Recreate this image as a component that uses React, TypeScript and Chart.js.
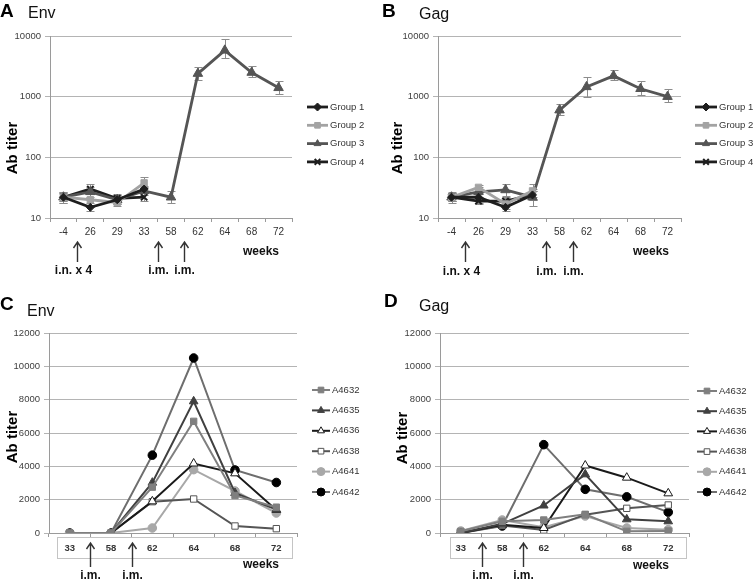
import React, { useEffect, useRef } from 'react';
import { Chart, registerables } from 'chart.js';
import { drawPoint } from 'chart.js/helpers';

Chart.register(...registerables);

const FONT = '"Liberation Sans", Arial, sans-serif';

// ---------- categories / labels ----------
const weeksAB = ['-4', '26', '29', '33', '58', '62', '64', '68', '72'];
const weeksCD = ['33', '58', '62', '64', '68', '72'];
const groupLabels = ['Group 1', 'Group 2', 'Group 3', 'Group 4'];
const animalLabels = ['A4632', 'A4635', 'A4636', 'A4638', 'A4641', 'A4642'];
const logTicks = [10, 100, 1000, 10000];

// ---------- Panel A: Env (group means, log scale) ----------
const envG1 = [22, 15, 20, 30];
const envG2 = [22, 20, 18, 38];
const envG3 = [22, 27, 20, 28, 22, 2400, 5800, 2500, 1400];
const envG4 = [22, 30, 21, 22];
const envG1Hi = [26, 18, 24, 34];
const envG1Lo = [19, 13, 17, 26];
const envG2Hi = [27, 25, 21, 47];
const envG2Lo = [18, 16, 16, 31];
const envG3Hi = [27, 33, 24, 33, 28, 3100, 8800, 3250, 1840];
const envG3Lo = [18, 22, 17, 24, 18, 1900, 4300, 2100, 1100];
const envG4Hi = [26, 36, 25, 26];
const envG4Lo = [19, 25, 18, 19];

// ---------- Panel B: Gag (group means, log scale) ----------
const gagG1 = [22, 22, 15, 24];
const gagG2 = [22, 32, 17, 28];
const gagG3 = [22, 27, 29, 22, 600, 1450, 2200, 1350, 1000];
const gagG4 = [22, 19, 19, 24];
const gagG1Hi = [26, 26, 18, 28];
const gagG1Lo = [19, 18, 13, 20];
const gagG2Hi = [26, 35, 21, 36];
const gagG2Lo = [19, 28, 14, 22];
const gagG3Hi = [27, 33, 37, 30, 750, 2100, 2800, 1780, 1340];
const gagG3Lo = [18, 22, 23, 16, 500, 1000, 1900, 1070, 830];
const gagG4Hi = [26, 22, 22, 28];
const gagG4Lo = [19, 17, 16, 20];

// ---------- Panel C: Env (individual animals) ----------
const c4632 = [0, 0, 2750, 6700, 2250, 1550];
const c4635 = [0, 0, 3020, 7900, 2400, 1400];
const c4636 = [0, 0, 1900, 4170, 3580, 1380];
const c4638 = [0, 0, 1880, 2040, 420, 260];
const c4641 = [0, 0, 300, 3800, 2520, 1200];
const c4642 = [0, 0, 4670, 10500, 3780, 3030];

// ---------- Panel D: Gag (individual animals) ----------
const d4632 = [100, 700, 780, 1120, 100, 120];
const d4635 = [0, 550, 1650, 3520, 820, 700];
const d4636 = [0, 500, 300, 4050, 3320, 2380];
const d4638 = [0, 450, 180, 1100, 1480, 1680];
const d4641 = [120, 780, 340, 1020, 300, 200];
const d4642 = [0, 420, 5300, 2620, 2170, 1250];

// ---------- styles ----------
const groupStyles = [
  { color: '#1e1e1e', point: 'rectRot', r: 4, fill: '#1e1e1e', border: '#1e1e1e' },
  { color: '#a3a3a3', point: 'rect', r: 4.5, fill: '#a3a3a3', border: '#a3a3a3' },
  { color: '#555555', point: 'triangle', r: 5.5, fill: '#555555', border: '#555555' },
  { color: '#1e1e1e', point: 'crossRot', r: 4.5, fill: '#1e1e1e', border: '#1e1e1e' },
];
const animalStyles = [
  { color: '#7f7f7f', point: 'rect', r: 4.5, fill: '#7f7f7f', border: '#7f7f7f' },
  { color: '#404040', point: 'triangle', r: 5, fill: '#404040', border: '#404040' },
  { color: '#1a1a1a', point: 'triangle', r: 5, fill: '#ffffff', border: '#1a1a1a' },
  { color: '#555555', point: 'rect', r: 4.5, fill: '#ffffff', border: '#555555' },
  { color: '#a8a8a8', point: 'circle', r: 4.3, fill: '#a8a8a8', border: '#a8a8a8' },
  { color: '#6e6e6e', point: 'circle', r: 4.3, fill: '#000000', border: '#000000' },
];

function makeDs(label: string, data: number[], st: any, lw: number, errHi?: number[], errLo?: number[]) {
  return {
    label,
    data,
    borderColor: st.color,
    backgroundColor: st.fill,
    borderWidth: lw,
    pointStyle: st.point,
    pointRadius: st.r,
    pointBackgroundColor: st.fill,
    pointBorderColor: st.border,
    pointBorderWidth: st.point === 'crossRot' ? 2 : 1,
    tension: 0,
    errHi,
    errLo,
  };
}

const decorPlugin = {
  id: 'decor',
  beforeDatasetsDraw(chart: any) {
    const ctx = chart.ctx;
    const ys = chart.scales.y;
    chart.data.datasets.forEach((ds: any, i: number) => {
      if (!ds.errHi) return;
      const meta = chart.getDatasetMeta(i);
      ctx.save();
      ctx.strokeStyle = '#8c8c8c';
      ctx.lineWidth = 1;
      ds.errHi.forEach((hi: number, j: number) => {
        const lo = ds.errLo[j];
        const pt = meta.data[j];
        if (hi == null || ds.data[j] == null || !pt) return;
        const x = Math.round(pt.x) + 0.5;
        const yh = Math.round(ys.getPixelForValue(hi)) + 0.5;
        const yl = Math.round(ys.getPixelForValue(lo)) + 0.5;
        ctx.beginPath();
        ctx.moveTo(x, yh); ctx.lineTo(x, yl);
        ctx.moveTo(x - 4, yh); ctx.lineTo(x + 4, yh);
        ctx.moveTo(x - 4, yl); ctx.lineTo(x + 4, yl);
        ctx.stroke();
      });
      ctx.restore();
    });
  },
  afterDraw(chart: any, _args: any, o: any) {
    if (!o || !o.letter) return;
    const ctx = chart.ctx;
    const ca = chart.chartArea;
    const xs = chart.scales.x;
    ctx.save();
    ctx.textBaseline = 'alphabetic';
    ctx.textAlign = 'left';
    ctx.fillStyle = '#000';
    ctx.font = `bold 19px ${FONT}`;
    ctx.fillText(o.letter.text, o.letter.x, o.letter.y);
    ctx.font = `16px ${FONT}`;
    ctx.fillStyle = '#111';
    ctx.fillText(o.title.text, o.title.x, o.title.y);

    // y title
    ctx.save();
    ctx.translate(o.ytitle.x, o.ytitle.y);
    ctx.rotate(-Math.PI / 2);
    ctx.textAlign = 'center';
    ctx.textBaseline = 'middle';
    ctx.font = `bold 15px ${FONT}`;
    ctx.fillStyle = '#000';
    ctx.fillText('Ab titer', 0, 0);
    ctx.restore();

    // label box
    if (o.box) {
      ctx.strokeStyle = '#c4c4c4';
      ctx.lineWidth = 1;
      ctx.strokeRect(
        Math.round(ca.left + o.box.l) + 0.5,
        Math.round(ca.bottom + o.box.t) + 0.5,
        Math.round(ca.right - ca.left - o.box.l - o.box.r),
        o.box.h
      );
    }

    // arrows
    ctx.strokeStyle = '#333';
    ctx.fillStyle = '#111';
    ctx.lineWidth = 1.4;
    ctx.font = `bold 12px ${FONT}`;
    ctx.textAlign = 'center';
    o.arrows.list.forEach((a: any) => {
      const bx = Math.round((xs.getPixelForTick(a.b - 1) + xs.getPixelForTick(a.b)) / 2) + 0.5;
      ctx.beginPath();
      ctx.moveTo(bx, o.arrows.y2);
      ctx.lineTo(bx, o.arrows.y1);
      ctx.moveTo(bx - 4, o.arrows.y1 + 6);
      ctx.lineTo(bx, o.arrows.y1);
      ctx.lineTo(bx + 4, o.arrows.y1 + 6);
      ctx.stroke();
      ctx.fillText(a.t, bx + (a.dx || 0), o.arrows.labelY);
    });

    // weeks
    ctx.fillText('weeks', ca.right + o.weeks.dx, o.weeks.y);

    // legend
    const L = o.legend;
    ctx.font = `9.5px ${FONT}`;
    ctx.textAlign = 'left';
    ctx.textBaseline = 'middle';
    chart.data.datasets.forEach((ds: any, i: number) => {
      const y = L.y0 + i * L.dy;
      ctx.strokeStyle = ds.borderColor;
      ctx.lineWidth = ds.borderWidth;
      ctx.beginPath();
      ctx.moveTo(L.x, y);
      ctx.lineTo(L.x + L.len, y);
      ctx.stroke();
      ctx.fillStyle = ds.pointBackgroundColor;
      ctx.strokeStyle = ds.pointBorderColor;
      ctx.lineWidth = ds.pointBorderWidth;
      drawPoint(ctx, { pointStyle: ds.pointStyle, radius: Math.min(ds.pointRadius, 4), borderWidth: ds.pointBorderWidth, rotation: 0 } as any, L.x + L.len / 2, y);
      ctx.fillStyle = '#333';
      ctx.fillText(ds.label, L.x + L.len + 2, y);
    });
    ctx.restore();
  },
};
Chart.register(decorPlugin as any);

function buildConfig(spec: any): any {
  const { area, W, H, xh } = spec;
  const yScale = spec.log
    ? {
        type: 'logarithmic',
        min: 10,
        max: 10000,
        afterBuildTicks: (s: any) => { s.ticks = logTicks.map((v) => ({ value: v })); },
        ticks: { callback: (v: any) => String(v), padding: 4, color: '#404040', font: { size: 9.5 } },
        grid: { color: '#b4b4b4', tickLength: 5 },
        border: { color: '#9a9a9a' },
        afterFit: (s: any) => { s.width = area.l; },
      }
    : {
        type: 'linear',
        min: 0,
        max: 12000,
        ticks: { stepSize: 2000, callback: (v: any) => String(v), padding: 4, color: '#404040', font: { size: 9.5 } },
        grid: { color: '#b4b4b4', tickLength: 5 },
        border: { color: '#9a9a9a' },
        afterFit: (s: any) => { s.width = area.l; },
      };
  return {
    type: 'line',
    data: { labels: spec.labels, datasets: spec.datasets },
    options: {
      responsive: false,
      animation: false,
      devicePixelRatio: 1,
      layout: { padding: { left: 0, top: area.t, right: W - area.r, bottom: H - area.b - xh } },
      plugins: { legend: { display: false }, tooltip: { enabled: false }, decor: spec.decor },
      scales: {
        x: {
          type: 'category',
          offset: true,
          grid: { offset: true, drawOnChartArea: false, drawTicks: true, tickLength: 4, color: '#9a9a9a' },
          border: { color: '#9a9a9a' },
          ticks: {
            autoSkip: false,
            maxRotation: 0,
            padding: spec.xPad,
            color: '#333',
            font: { size: spec.xBold ? 9.5 : 10, weight: spec.xBold ? 'bold' : 'normal' },
          },
          afterFit: (s: any) => { s.height = xh; },
        },
        y: yScale,
      },
    },
  };
}

const W = 377;
const H = 290;

const specA = {
  W, H, xh: 22, log: true, xPad: 4, xBold: false,
  area: { l: 50, r: 292, t: 36, b: 218 },
  labels: weeksAB,
  datasets: [
    makeDs(groupLabels[0], envG1, groupStyles[0], 2.8, envG1Hi, envG1Lo),
    makeDs(groupLabels[1], envG2, groupStyles[1], 2.8, envG2Hi, envG2Lo),
    makeDs(groupLabels[2], envG3, groupStyles[2], 2.8, envG3Hi, envG3Lo),
    makeDs(groupLabels[3], envG4, groupStyles[3], 2.8, envG4Hi, envG4Lo),
  ],
  decor: {
    letter: { text: 'A', x: 0, y: 17 },
    title: { text: 'Env', x: 28, y: 18 },
    ytitle: { x: 13, y: 148 },
    legend: { x: 307, len: 21, y0: 107, dy: 18.3 },
    arrows: { y1: 242, y2: 262, labelY: 274, list: [{ b: 1, t: 'i.n. x 4', dx: -4 }, { b: 4, t: 'i.m.' }, { b: 5, t: 'i.m.' }] },
    weeks: { dx: -31, y: 255 },
  },
};

const specB = {
  W, H, xh: 22, log: true, xPad: 4, xBold: false,
  area: { l: 61, r: 304, t: 36, b: 218 },
  labels: weeksAB,
  datasets: [
    makeDs(groupLabels[0], gagG1, groupStyles[0], 2.8, gagG1Hi, gagG1Lo),
    makeDs(groupLabels[1], gagG2, groupStyles[1], 2.8, gagG2Hi, gagG2Lo),
    makeDs(groupLabels[2], gagG3, groupStyles[2], 2.8, gagG3Hi, gagG3Lo),
    makeDs(groupLabels[3], gagG4, groupStyles[3], 2.8, gagG4Hi, gagG4Lo),
  ],
  decor: {
    letter: { text: 'B', x: 5, y: 17 },
    title: { text: 'Gag', x: 42, y: 19 },
    ytitle: { x: 21, y: 148 },
    legend: { x: 318, len: 22, y0: 107, dy: 18.3 },
    arrows: { y1: 242, y2: 262, labelY: 275, list: [{ b: 1, t: 'i.n. x 4', dx: -4 }, { b: 4, t: 'i.m.' }, { b: 5, t: 'i.m.' }] },
    weeks: { dx: -30, y: 255 },
  },
};

const specC = {
  W, H, xh: 24, log: false, xPad: 6, xBold: true,
  area: { l: 49, r: 297, t: 43, b: 243 },
  labels: weeksCD,
  datasets: [
    makeDs(animalLabels[0], c4632, animalStyles[0], 2),
    makeDs(animalLabels[1], c4635, animalStyles[1], 2),
    makeDs(animalLabels[2], c4636, animalStyles[2], 2),
    makeDs(animalLabels[3], c4638, animalStyles[3], 2),
    makeDs(animalLabels[4], c4641, animalStyles[4], 2),
    makeDs(animalLabels[5], c4642, animalStyles[5], 2),
  ],
  decor: {
    letter: { text: 'C', x: 0, y: 20 },
    title: { text: 'Env', x: 27, y: 26 },
    ytitle: { x: 12.5, y: 147 },
    legend: { x: 312, len: 18, y0: 100, dy: 20.4 },
    box: { l: 8, r: 5, t: 4, h: 21 },
    arrows: { y1: 253, y2: 277, labelY: 289, list: [{ b: 1, t: 'i.m.' }, { b: 2, t: 'i.m.' }] },
    weeks: { dx: -36, y: 278 },
  },
};

const specD = {
  W, H, xh: 24, log: false, xPad: 6, xBold: true,
  area: { l: 63, r: 312, t: 43, b: 243 },
  labels: weeksCD,
  datasets: [
    makeDs(animalLabels[0], d4632, animalStyles[0], 2),
    makeDs(animalLabels[1], d4635, animalStyles[1], 2),
    makeDs(animalLabels[2], d4636, animalStyles[2], 2),
    makeDs(animalLabels[3], d4638, animalStyles[3], 2),
    makeDs(animalLabels[4], d4641, animalStyles[4], 2),
    makeDs(animalLabels[5], d4642, animalStyles[5], 2),
  ],
  decor: {
    letter: { text: 'D', x: 7, y: 17 },
    title: { text: 'Gag', x: 42, y: 21 },
    ytitle: { x: 26, y: 148 },
    legend: { x: 320, len: 20, y0: 101, dy: 20.2 },
    box: { l: 10, r: 3, t: 4, h: 21 },
    arrows: { y1: 253, y2: 277, labelY: 289, list: [{ b: 1, t: 'i.m.' }, { b: 2, t: 'i.m.' }] },
    weeks: { dx: -38, y: 279 },
  },
};

function Panel({ spec, left, top }: { spec: any; left: number; top: number }) {
  const ref = useRef<HTMLCanvasElement>(null);
  useEffect(() => {
    const chart = new Chart(ref.current as HTMLCanvasElement, buildConfig(spec));
    return () => chart.destroy();
  }, [spec]);
  return (
    <canvas
      ref={ref}
      width={W}
      height={H}
      style={{ position: 'absolute', left, top, width: W, height: H, display: 'block' }}
    />
  );
}

export default function App() {
  return (
    <div style={{ position: 'absolute', left: 0, top: 0, width: 754, height: 580, background: '#fff', overflow: 'hidden' }}>
      <Panel spec={specA} left={0} top={0} />
      <Panel spec={specB} left={377} top={0} />
      <Panel spec={specC} left={0} top={290} />
      <Panel spec={specD} left={377} top={290} />
    </div>
  );
}
